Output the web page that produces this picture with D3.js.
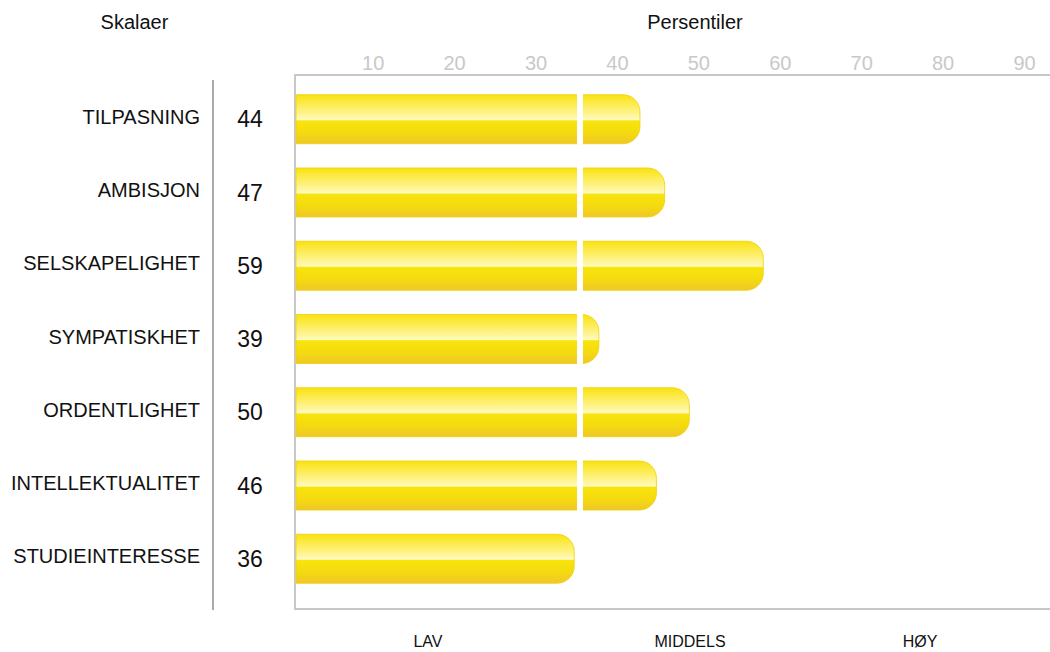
<!DOCTYPE html>
<html>
<head>
<meta charset="utf-8">
<script src="https://cdn.jsdelivr.net/npm/d3@7"></script>
<style>
  html, body { margin: 0; padding: 0; background: #fff; }
  svg { display: block; font-family: "Liberation Sans", Arial, sans-serif; }
</style>
</head>
<body>
<svg id="chart" width="1050" height="652"></svg>
<script>
// Scale names and their percentile scores
const scales = ["TILPASNING", "AMBISJON", "SELSKAPELIGHET", "SYMPATISKHET",
                "ORDENTLIGHET", "INTELLEKTUALITET", "STUDIEINTERESSE"];
const scores = [44, 47, 59, 39, 50, 46, 36];

// Percentile tick labels along the top
const percentileTicks = [10, 20, 30, 40, 50, 60, 70, 80, 90];

// Level bands under the plot
const levels = ["LAV", "MIDDELS", "HØY"];
const middleCut = 36.7;   // boundary between LAV and MIDDELS on the score scale

const svg = d3.select("#chart");

// Layout
const frame = { left: 295, top: 75, right: 1050, bottom: 609 };
const sepX = 213;
const labelRight = 200;
const valueX = 250;
const levelX = [428, 690, 920];

// Scales
const x = d3.scaleLinear().domain([0, 100]).range([278.3, 1100.3]);
const pct = d3.scaleLinear().domain([10, 90]).range([372.7, 1024]);
const y = d3.scaleBand().domain(scales).range([82.6, 595.4])
  .paddingInner(0.331).paddingOuter(0.1655);

// Glossy yellow gradient
const defs = svg.append("defs");
const grad = defs.append("linearGradient").attr("id", "gloss")
  .attr("x1", 0).attr("y1", 0).attr("x2", 0).attr("y2", 1);
[
  [0, "#f9e10e"], [0.12, "#fbe838"], [0.44, "#fff6a0"], [0.51, "#fffbc4"],
  [0.535, "#f8e40c"], [0.78, "#f4da10"], [1, "#efc72a"]
].forEach(([o, c]) => grad.append("stop").attr("offset", o).attr("stop-color", c));

// Column titles
svg.append("text").attr("x", 134.5).attr("y", 29).attr("text-anchor", "middle")
  .attr("font-size", 20).attr("fill", "#111").text("Skalaer");
svg.append("text").attr("x", 695).attr("y", 29).attr("text-anchor", "middle")
  .attr("font-size", 20).attr("fill", "#111").text("Persentiler");

// Percentile axis labels
const axis = d3.axisTop(pct).tickValues(percentileTicks).tickSize(0).tickPadding(0);
const axisG = svg.append("g").attr("transform", `translate(0,70)`).call(axis);
axisG.select(".domain").remove();
axisG.selectAll("text").attr("font-size", 20).attr("fill", "#c9c9c9")
  .attr("font-family", "'Liberation Sans', Arial, sans-serif").attr("dy", 0);

// Plot frame: top, left, bottom
const frameColor = "#c8c8c8";
svg.append("path")
  .attr("d", `M${frame.right},${frame.top}H${frame.left}V${frame.bottom}H${frame.right}`)
  .attr("fill", "none").attr("stroke", frameColor).attr("stroke-width", 2);

// Separator between names and scores
svg.append("line").attr("x1", sepX).attr("x2", sepX).attr("y1", 80).attr("y2", 610)
  .attr("stroke", "#aaaaaa").attr("stroke-width", 2);

// Bars: square left end, rounded right end
const r = 17;
const x0 = frame.left + 1;
function barPath(v, top, h) {
  const x1 = x(v);
  const rr = Math.min(r, h / 2, x1 - x0);
  return `M${x0},${top}H${x1 - rr}A${rr},${rr} 0 0 1 ${x1},${top + rr}` +
         `V${top + h - rr}A${rr},${rr} 0 0 1 ${x1 - rr},${top + h}H${x0}Z`;
}

const rows = svg.append("g").selectAll("g").data(scales).join("g");

rows.append("path")
  .attr("d", (d, i) => barPath(scores[i], y(d), y.bandwidth()))
  .attr("fill", "url(#gloss)")
  .attr("stroke", "#f1d106").attr("stroke-width", 0.8);

// White notch at the LAV / MIDDELS boundary
rows.filter((d, i) => scores[i] > middleCut)
  .append("rect")
  .attr("x", x(middleCut) - 3).attr("width", 6)
  .attr("y", d => y(d) - 1).attr("height", y.bandwidth() + 2)
  .attr("fill", "#fff");

// Scale names
rows.append("text")
  .attr("x", labelRight).attr("y", d => y(d) + y.bandwidth() / 2)
  .attr("dy", "0.23em").attr("text-anchor", "end")
  .attr("font-size", 20).attr("fill", "#111")
  .text(d => d);

// Score values
rows.append("text")
  .attr("x", valueX).attr("y", d => y(d) + y.bandwidth() / 2)
  .attr("dy", "0.35em").attr("text-anchor", "middle")
  .attr("font-size", 23).attr("fill", "#111")
  .text((d, i) => scores[i]);

// Level labels
svg.append("g").selectAll("text").data(levels).join("text")
  .attr("x", (d, i) => levelX[i]).attr("y", 647)
  .attr("text-anchor", "middle").attr("font-size", 16).attr("fill", "#111")
  .text(d => d);
</script>
</body>
</html>
